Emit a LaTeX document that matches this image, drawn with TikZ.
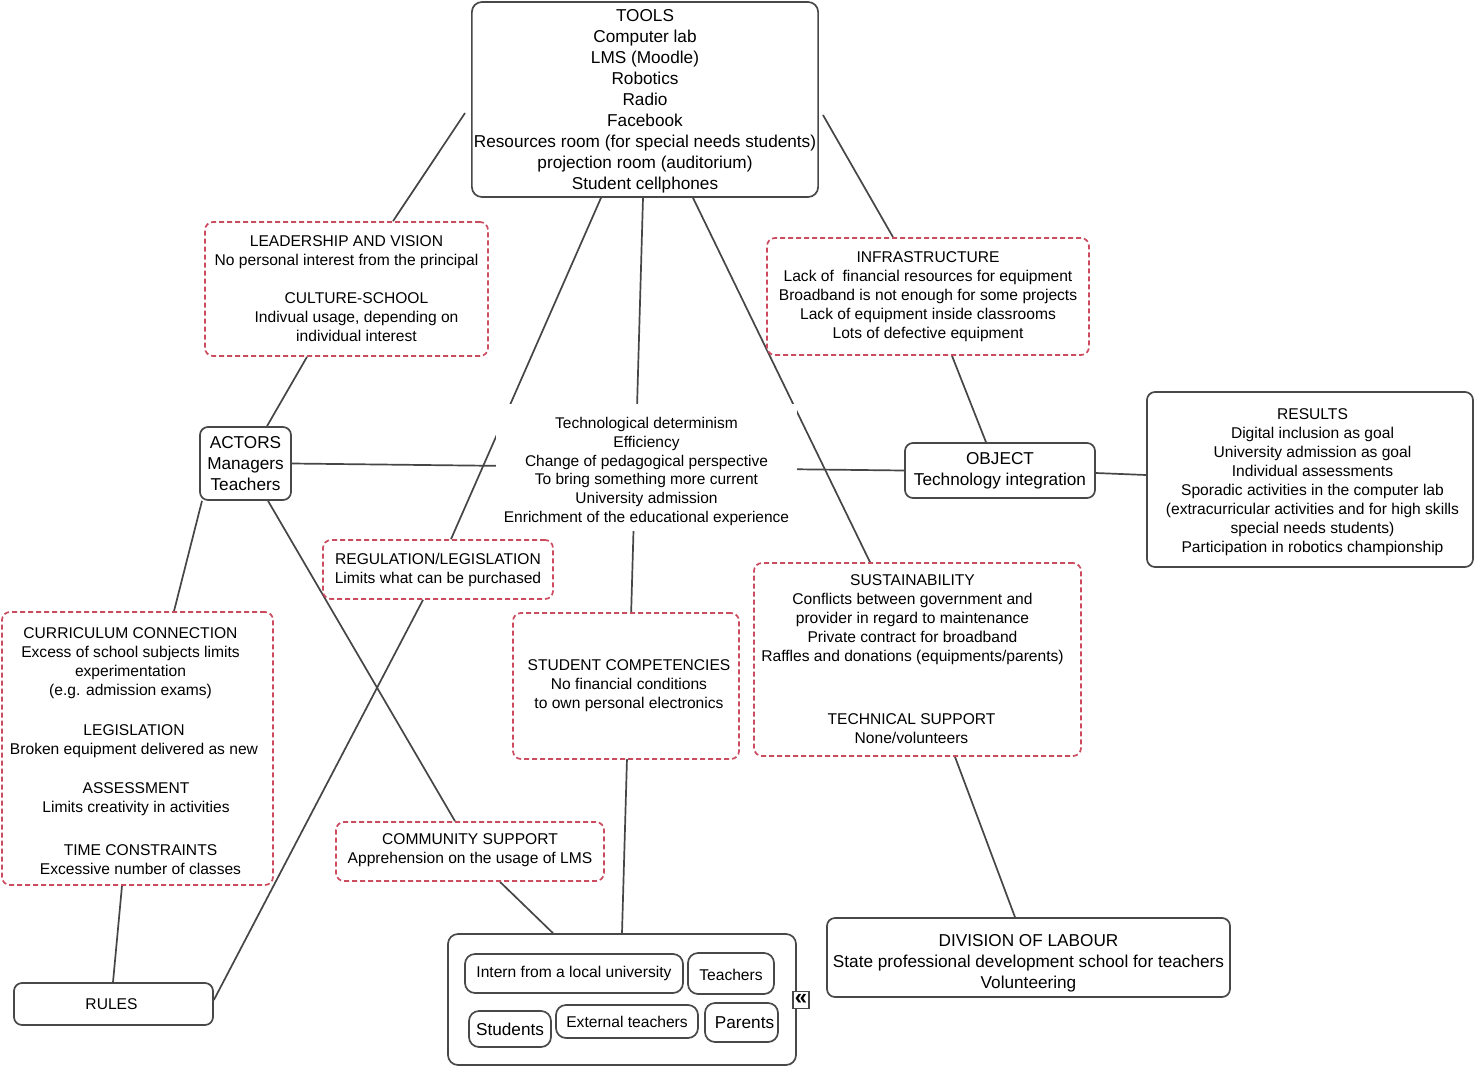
\documentclass[tikz,border=0pt]{standalone}
\usepackage{fontspec}
\setmainfont{Liberation Sans}
\usetikzlibrary{backgrounds}
\definecolor{boxgray}{RGB}{72,72,72}
\definecolor{linegray}{RGB}{70,70,70}
\definecolor{dashred}{RGB}{205,75,95}
\begin{document}
\begin{tikzpicture}[x=1pt,y=-1pt,
  base/.style={align=center, inner sep=2pt, fill=white, rounded corners=8pt, line width=1.7pt},
  solidbox/.style={base, draw=boxgray},
  dashbox/.style={base, draw=dashred, dash pattern=on 5pt off 3pt},
  small/.style={font=\fontsize{15.6}{19}\selectfont},
  large/.style={font=\fontsize{17.2}{21}\selectfont},
  conn/.style={draw=linegray, line width=1.7pt},
]
\useasboundingbox (0,0) rectangle (1476,1069);

% nodes
\node[solidbox, large, minimum width=346pt, minimum height=195pt, rounded corners=10pt] (tools) at (645,99.5)
  {\rule{0pt}{15pt}TOOLS\\Computer lab\\LMS (Moodle)\\Robotics\\Radio\\Facebook\\Resources room (for special needs students)\\projection room (auditorium)\\Student cellphones};

\node[dashbox, small, minimum width=283pt, minimum height=134pt] (lead) at (346.5,289)
  {LEADERSHIP AND VISION\\No personal interest from the principal\\[19pt]\hspace*{20pt}CULTURE-SCHOOL\\\hspace*{20pt}Indivual usage, depending on\\\hspace*{20pt}individual interest};

\node[dashbox, small, minimum width=322pt, minimum height=117pt] (infra) at (928,296.5)
  {INFRASTRUCTURE\\Lack of\ \ financial resources for equipment\\Broadband is not enough for some projects\\Lack of equipment inside classrooms\\Lots of defective equipment};

\node[solidbox, large, minimum width=91pt, minimum height=73pt, inner sep=1pt] (actors) at (245.5,463.5)
  {ACTORS\\Managers\\Teachers};

\node[fill=white, align=center, font=\fontsize{15.5}{18.8}\selectfont, minimum width=301pt, minimum height=127pt, inner sep=0pt] (goal) at (646.5,467.5)
  {\rule{0pt}{19pt}Technological determinism\\Efficiency\\Change of pedagogical perspective\\To bring something more current\\University admission\\Enrichment of the educational experience};

\node[solidbox, large, minimum width=190pt, minimum height=55pt] (object) at (1000,470.5)
  {OBJECT\\Technology integration};

\node[solidbox, small, minimum width=326pt, minimum height=175pt] (results) at (1310,479.5)
  {\rule{0pt}{17pt}\hspace*{5pt}RESULTS\\\hspace*{5pt}Digital inclusion as goal\\\hspace*{5pt}University admission as goal\\\hspace*{5pt}Individual assessments\\\hspace*{5pt}Sporadic activities in the computer lab\\\hspace*{5pt}(extracurricular activities and for high skills\\\hspace*{5pt}special needs students)\\\hspace*{5pt}Participation in robotics championship};

\node[dashbox, small, minimum width=230pt, minimum height=59pt] (reg) at (438,569.5)
  {REGULATION/LEGISLATION\\Limits what can be purchased};

\node[dashbox, small, minimum width=271pt, minimum height=273pt] (curr) at (137.5,748.5)
  {\rule{0pt}{17pt}\hspace*{-14pt}CURRICULUM CONNECTION\\\hspace*{-14pt}Excess of school subjects limits\\\hspace*{-14pt}experimentation\\\hspace*{-14pt}(e.g. admission exams)\\[21pt]\hspace*{-7pt}LEGISLATION\\\hspace*{-7pt}Broken equipment delivered as new\\[20pt]\hspace*{-3pt}ASSESSMENT\\\hspace*{-3pt}Limits creativity in activities\\[24pt]\hspace*{6pt}TIME CONSTRAINTS\\\hspace*{6pt}Excessive number of classes};

\node[dashbox, small, minimum width=226pt, minimum height=146pt] (studcomp) at (626,686)
  {\hspace*{6pt}STUDENT COMPETENCIES\\\hspace*{6pt}No financial conditions\\\hspace*{6pt}to own personal electronics};

\node[dashbox, small, minimum width=327pt, minimum height=193pt] (sust) at (917.5,659.5)
  {\hspace*{-10pt}SUSTAINABILITY\\\hspace*{-10pt}Conflicts between government and\\\hspace*{-10pt}provider in regard to maintenance\\\hspace*{-10pt}Private contract for broadband\\\hspace*{-10pt}Raffles and donations (equipments/parents)\\[44pt]\hspace*{-12pt}TECHNICAL SUPPORT\\\hspace*{-12pt}None/volunteers};

\node[dashbox, small, minimum width=268pt, minimum height=59pt] (commsup) at (470,851.5)
  {COMMUNITY SUPPORT\\Apprehension on the usage of LMS\\[-14pt]\mbox{}};

\node[solidbox, small, minimum width=199pt, minimum height=42pt] (rules) at (113.5,1004) {\hspace*{-4pt}RULES};

\node[solidbox, large, minimum width=403pt, minimum height=79pt] (div) at (1028.5,957.5)
  {\rule{0pt}{23pt}DIVISION OF LABOUR\\State professional development school for teachers\\Volunteering};

\node[solidbox, minimum width=348pt, minimum height=131pt, rounded corners=10pt] (comm) at (622,999.5) {};
\node[solidbox, small, minimum width=218pt, minimum height=39pt, rounded corners=10pt] (intern) at (574,973.5) {Intern from a local university};
\node[solidbox, small, minimum width=86pt, minimum height=41pt, rounded corners=10pt] (teach) at (731,973.5) {\rule{0pt}{14pt}Teachers};
\node[solidbox, large, minimum width=82pt, minimum height=36pt, rounded corners=10pt] (stud) at (510,1029) {Students};
\node[solidbox, small, minimum width=142pt, minimum height=33pt, rounded corners=10pt] (ext) at (627,1021.5) {External teachers};
\node[solidbox, large, minimum width=73pt, minimum height=39pt, rounded corners=10pt] (par) at (741.5,1022.5) {\hspace*{6pt}Parents};
\node[draw=boxgray, fill=white, line width=1.2pt, minimum width=16pt, minimum height=17pt, inner sep=0pt, font=\fontsize{22}{22}\selectfont\bfseries] (coll) at (801,1000) {\raisebox{1pt}{«}};

% connectors
\begin{scope}[on background layer]
\fill[white] (0,0) rectangle (1476,1069);
\draw[conn] ([shift={(-6,13.5)}]tools.west) -- ([shift={(46.5,0)}]lead.north);
\draw[conn] ([shift={(-39.5,0)}]lead.south) -- ([shift={(21.5,0)}]actors.north);
\draw[conn] ([shift={(4,15.5)}]tools.east) -- ([shift={(-35,0)}]infra.north);
\draw[conn] ([shift={(24,0)}]infra.south) -- ([shift={(-14,0)}]object.north);
\draw[conn] ([shift={(-44,0)}]tools.south) -- ([shift={(13,0)}]reg.north);
\draw[conn] ([shift={(-15,0)}]reg.south) -- ([shift={(0,-4)}]rules.east);
\draw[conn] ([shift={(-2,0)}]tools.south) -- (comm.north);
\draw[conn] ([shift={(48,0)}]tools.south) -- ([shift={(-47.5,0)}]sust.north);
\draw[conn] ([shift={(37.5,0)}]sust.south) -- ([shift={(-13.5,0)}]div.north);
\draw[conn] (actors.east) -- (object.west);
\draw[conn] ([shift={(0,2.5)}]object.east) -- ([shift={(0,-4.5)}]results.west);
\draw[conn] ([shift={(-43.5,0)}]actors.south) -- ([shift={(36.5,0)}]curr.north);
\draw[conn] ([shift={(-15.5,0)}]curr.south) -- ([shift={(-0.5,0)}]rules.north);
\draw[conn] ([shift={(22.5,0)}]actors.south) -- ([shift={(-15,0)}]commsup.north);
\draw[conn] ([shift={(30,0)}]commsup.south) -- ([shift={(-69,0)}]comm.north);
\end{scope}
\end{tikzpicture}
\end{document}
